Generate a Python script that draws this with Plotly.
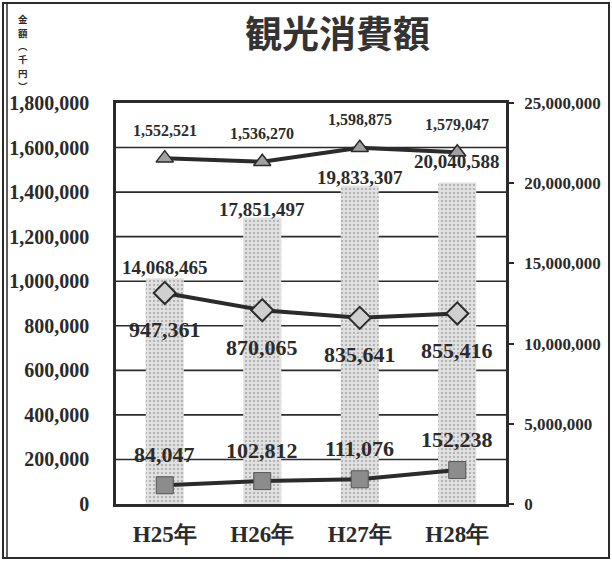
import plotly.graph_objects as go

years = ["H25年", "H26年", "H27年", "H28年"]
bar_values = [14068465, 17851497, 19833307, 20040588]
tri_values = [1552521, 1536270, 1598875, 1579047]
dia_values = [947361, 870065, 835641, 855416]
sq_values = [84047, 102812, 111076, 152238]
left_ticks = [0, 200000, 400000, 600000, 800000, 1000000, 1200000, 1400000, 1600000, 1800000]
right_ticks = [0, 5000000, 10000000, 15000000, 20000000, 25000000]
axis_title_chars = ["金", "額", "︵", "千", "円", "︶"]

serif = "Liberation Serif, DejaVu Serif, serif"
ink = "#2b2b2b"
LMAX = 1800000
RMAX = 25000000

# page geometry (pixels)
W, H = 612, 561
ML, MR, MT, MB = 116, 106, 103, 57
PW, PH = W - ML - MR, H - MT - MB


def fmt(v):
    return f"{v:,}"


def px_x(x):
    return (x - ML) / PW


def px_y(y):
    return (H - MB - y) / PH


def bold(s):
    return f"<b>{s}</b>"


fig = go.Figure()

# bars on the primary (right-hand) axis so that the lines draw on top
fig.add_trace(go.Bar(
    x=years, y=bar_values, yaxis="y", width=0.39,
    marker=dict(color="#dedede", line=dict(width=0),
                pattern=dict(shape=".", fgcolor="#6e6e6e", bgcolor="#e0e0e0", size=4, solidity=0.22)),
    showlegend=False, hoverinfo="x+y",
))

line_specs = [
    (tri_values, dict(symbol="triangle-up", size=15, color="#a0a0a0", line=dict(color=ink, width=1.5))),
    (dia_values, dict(symbol="diamond", size=17, color="#cfcfcf", line=dict(color=ink, width=2))),
    (sq_values, dict(symbol="square", size=17, color="#8c8c8c", line=dict(color="#555555", width=1))),
]
for vals, mk in line_specs:
    fig.add_trace(go.Scatter(
        x=years, y=vals, yaxis="y2", mode="lines+markers",
        line=dict(color=ink, width=4), marker=mk, showlegend=False,
    ))

annotations = []
# bar value labels
bar_shift = [11, 8, 8, 21]
for cat, v, s in zip(years, bar_values, bar_shift):
    annotations.append(dict(x=cat, y=v, xref="x", yref="y", text=bold(fmt(v)), showarrow=False,
                            yshift=s, yanchor="middle",
                            font=dict(family=serif, size=19, color=ink)))
# line value labels
for vals, shift, size in [(tri_values, 28, 16), (dia_values, -37, 22), (sq_values, 31, 22)]:
    for cat, v in zip(years, vals):
        annotations.append(dict(x=cat, y=v, xref="x", yref="y2", text=bold(fmt(v)), showarrow=False,
                                yshift=shift, yanchor="middle",
                                font=dict(family=serif, size=size, color=ink)))

# title
annotations.append(dict(text="<b>観光消費額</b>", x=px_x(337), y=px_y(32), xref="paper", yref="paper",
                        showarrow=False, xanchor="center", yanchor="middle",
                        font=dict(family="Noto Sans CJK JP", size=37, color="#333333")))
# vertical axis title 金額（千円）
for ch, cy in zip(axis_title_chars, [19, 32.5, 46, 59.5, 73, 86]):
    annotations.append(dict(text=f"<b>{ch}</b>", x=px_x(23), y=px_y(cy), xref="paper", yref="paper",
                            showarrow=False, xanchor="center", yanchor="middle",
                            font=dict(family="Noto Sans CJK JP", size=9.5, color=ink)))

shapes = []
# horizontal gridlines at the left-axis ticks, drawn beneath the bars
for t in left_ticks[1:-1]:
    shapes.append(dict(type="line", xref="paper", yref="paper", x0=0, x1=1, y0=t / LMAX, y1=t / LMAX,
                       line=dict(color=ink, width=1.6), layer="below"))
# outer frame
shapes.append(dict(type="rect", xref="paper", yref="paper",
                   x0=px_x(3), x1=px_x(609), y0=px_y(558), y1=px_y(3),
                   line=dict(color=ink, width=2)))
shapes.append(dict(type="line", xref="paper", yref="paper",
                   x0=px_x(7), x1=px_x(7), y0=px_y(558), y1=px_y(3),
                   line=dict(color=ink, width=1.5)))

fig.update_layout(
    width=W, height=H,
    paper_bgcolor="white", plot_bgcolor="white",
    margin=dict(l=ML, r=MR, t=MT, b=MB, autoexpand=False),
    font=dict(family=serif, color=ink),
    xaxis=dict(
        showgrid=False, showline=True, linecolor=ink, linewidth=2.5, mirror=True,
        tickfont=dict(family=serif, size=23, color=ink), ticks="",
        tickvals=years, ticktext=[bold(y) for y in years],
        ticklabelstandoff=8, automargin=False,
    ),
    yaxis=dict(
        range=[0, RMAX], tickvals=right_ticks, ticktext=[bold(fmt(v)) for v in right_ticks],
        side="right", showgrid=False,
        showline=True, linecolor=ink, linewidth=2.5,
        ticks="outside", ticklen=5, tickcolor=ink, tickwidth=2,
        tickfont=dict(family=serif, size=17, color=ink),
        ticklabelstandoff=7, zeroline=False, automargin=False,
    ),
    yaxis2=dict(
        range=[0, LMAX], tickvals=left_ticks, ticktext=[bold(fmt(v)) for v in left_ticks],
        overlaying="y", side="left", showgrid=False,
        showline=True, linecolor=ink, linewidth=2.5,
        tickfont=dict(family=serif, size=20, color=ink), ticks="",
        ticklabelstandoff=20, zeroline=False, automargin=False,
    ),
    shapes=shapes,
    annotations=annotations,
)

fig.write_html(
    "out.html",
    config={"displayModeBar": False},
    post_script="document.body.style.margin='0px';document.body.style.overflow='hidden';",
)
